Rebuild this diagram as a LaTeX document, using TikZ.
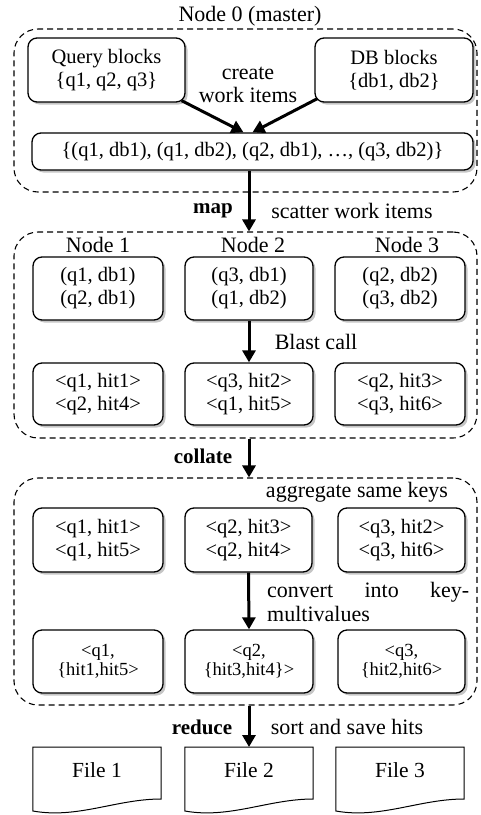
\documentclass[tikz,border=0pt]{standalone}
\usepackage{fontspec}
\setmainfont{Liberation Serif}
\usetikzlibrary{shadows,arrows.meta,calc}
\begin{document}
\begin{tikzpicture}[x=1pt,y=-1pt,
  box/.style={draw, line width=1.3pt, rounded corners=9pt, fill=white,
    drop shadow={shadow xshift=2.5pt,shadow yshift=-2.5pt,fill=black!45},
    align=center, font=\fontsize{20.5}{23}\selectfont, inner sep=0pt},
  smallbox/.style={box, font=\fontsize{18.5}{19.5}\selectfont},
  group/.style={draw, line width=1.1pt, dash pattern=on 6pt off 4pt, rounded corners=24pt, inner sep=0pt},
  lbl/.style={font=\fontsize{22}{23}\selectfont, inner sep=0pt},
  blbl/.style={font=\fontsize{21}{23}\selectfont\bfseries, inner sep=0pt},
  arr/.style={line width=3pt, -{Triangle[width=13pt,length=12pt]}},
  filebox/.style={inner sep=0pt, minimum width=128pt, minimum height=46pt, anchor=north, font=\fontsize{21.5}{23}\selectfont},
  fileline/.style={draw, line width=1pt}
]
\useasboundingbox (0,0) rectangle (480,815);

% groups
\node[group, minimum width=463pt, minimum height=163pt] (g0) at (245.5,110.5) {};
\node[group, minimum width=463pt, minimum height=206pt] (g1) at (245.5,335) {};
\node[group, minimum width=463pt, minimum height=227pt] (g2) at (245.5,591.5) {};

% master
\node[lbl] (t0) at (250,16) {Node 0 (master)};
\node[box, minimum width=157pt, minimum height=64pt] (q) at (106.5,70) {Query blocks\\\{q1, q2, q3\}};
\node[box, minimum width=158pt, minimum height=64pt] (db) at (394,70) {DB blocks\\\{db1, db2\}};
\node[lbl, align=center] (cw) at (248,85) {create\\work items};
\node[box, minimum width=441pt, minimum height=37pt] (w) at (252.5,151.5) {\{(q1, db1), (q1, db2), (q2, db1), \dots, (q3, db2)\}};

% map
\node[blbl] (map) at (213,211) {map};
\node[lbl] (sc) at (352,211) {scatter work items};
\node[lbl] (n1) at (98,245) {Node 1};
\node[lbl] (n2) at (253,245) {Node 2};
\node[lbl] (n3) at (407,245) {Node 3};
\node[box, minimum width=130pt, minimum height=63pt] (a1) at (98,288.5) {(q1, db1)\\(q2, db1)};
\node[box, minimum width=128pt, minimum height=63pt] (a2) at (249,288.5) {(q3, db1)\\(q1, db2)};
\node[box, minimum width=130pt, minimum height=63pt] (a3) at (400,288.5) {(q2, db2)\\(q3, db2)};
\node[lbl] (bc) at (316,342) {Blast call};
\node[box, minimum width=130pt, minimum height=62pt] (b1) at (98,394) {<q1, hit1>\\<q2, hit4>};
\node[box, minimum width=128pt, minimum height=62pt] (b2) at (249,394) {<q3, hit2>\\<q1, hit5>};
\node[box, minimum width=130pt, minimum height=62pt] (b3) at (400,394) {<q2, hit3>\\<q3, hit6>};

% collate
\node[blbl] (col) at (203,456) {collate};
\node[lbl] (agg) at (357,492) {aggregate same keys};
\node[box, minimum width=130pt, minimum height=64pt] (c1) at (98,540) {<q1, hit1>\\<q1, hit5>};
\node[box, minimum width=127pt, minimum height=64pt] (c2) at (248.5,540) {<q2, hit3>\\<q2, hit4>};
\node[box, minimum width=127pt, minimum height=64pt] (c3) at (401.5,540) {<q3, hit2>\\<q3, hit6>};
\node[lbl, anchor=west] (cv1) at (267,592) {\hbox to 202pt{convert\hfill into\hfill key-}};
\node[lbl, anchor=west] (cv2) at (267,614) {multivalues};
\node[smallbox, minimum width=130pt, minimum height=63pt] (d1) at (98,661.5) {<q1,\\\{hit1,hit5>};
\node[smallbox, minimum width=128pt, minimum height=63pt] (d2) at (249,661.5) {<q2,\\\{hit3,hit4\}>};
\node[smallbox, minimum width=127pt, minimum height=63pt] (d3) at (401.5,661.5) {<q3,\\\{hit2,hit6>};

% reduce
\node[blbl] (red) at (202,727) {reduce};
\node[lbl] (ssh) at (347,727) {sort and save hits};
\node[filebox] (f1) at (97,747) {File 1};
\node[filebox] (f2) at (249,747) {File 2};
\node[filebox] (f3) at (400,747) {File 3};
\foreach \f in {f1,f2,f3}{
  \draw[fileline] (\f.north west) -- (\f.north east) -- ($(\f.north east)+(0,52)$)
    .. controls ($(\f.north east)+(-45,52)$) and ($(\f.north west)+(45,72)$) .. ($(\f.north west)+(0,64)$) -- cycle;
}

% arrows
\draw[arr] ($(q.south east)+(-4,-2)$) -- ($(w.north)+(-9,0)$);
\draw[arr] ($(db.south west)+(3,-4)$) -- ($(w.north)+(0,0)$);
\draw[arr] (w.south -| a2.south) -- (g1.north -| a2.north);
\draw[arr] (a2.south) -- (b2.north);
\draw[arr] (g1.south -| a2.south) -- (g2.north -| a2.north);
\draw[arr] (c2.south) -- (d2.north);
\draw[arr] (g2.south -| a2.south) -- (f2.north);
\end{tikzpicture}
\end{document}
